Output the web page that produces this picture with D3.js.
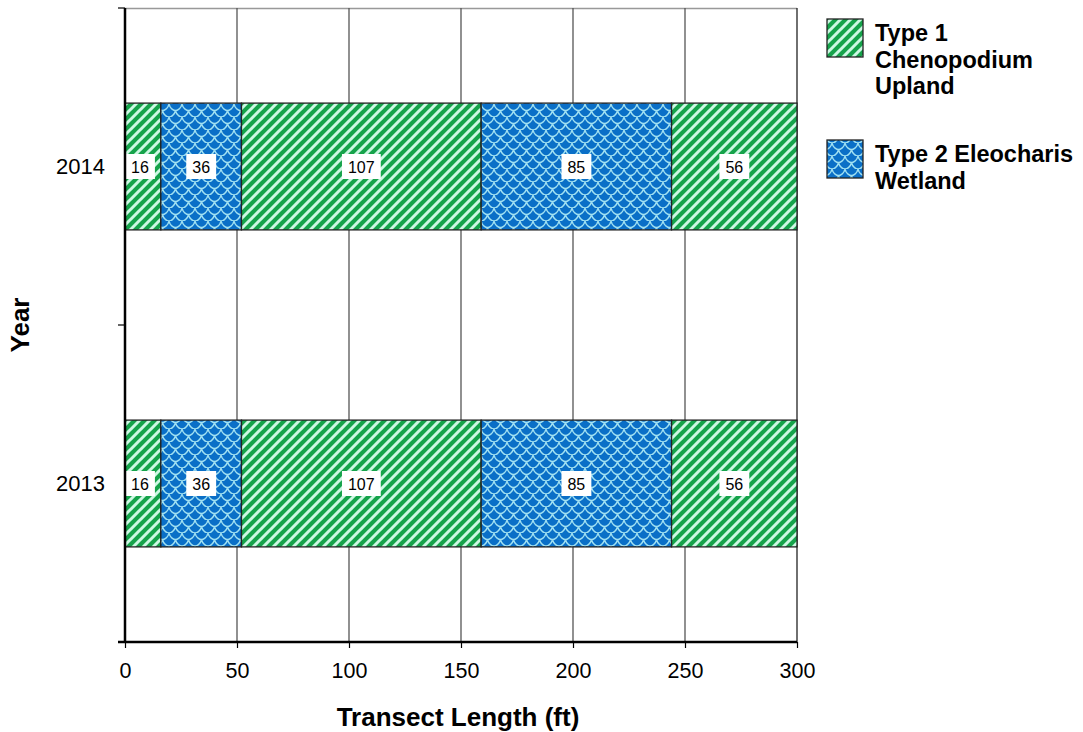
<!DOCTYPE html>
<html>
<head>
<meta charset="utf-8">
<script src="https://cdn.jsdelivr.net/npm/d3@7"></script>
<style>
body{margin:0;background:#fff;}
svg{display:block;font-family:Arial,"Liberation Sans",sans-serif;}
</style>
</head>
<body>
<svg id="chart" width="1083" height="732"></svg>
<script>
const years = ["2014", "2013"];
const segments2014 = [16, 36, 107, 85, 56];
const segments2013 = [16, 36, 107, 85, 56];
const segmentTypes = [1, 2, 1, 2, 1];
const xTicks = [0, 50, 100, 150, 200, 250, 300];
const legendLabels = [["Type 1", "Chenopodium", "Upland"], ["Type 2 Eleocharis", "Wetland"]];

const svg = d3.select("#chart");
const defs = svg.append("defs");

// green diagonal stripes
const pg = defs.append("pattern").attr("id","pGreen").attr("patternUnits","userSpaceOnUse")
  .attr("width",10).attr("height",10);
pg.append("rect").attr("width",10).attr("height",10).attr("fill","#15a34a");
pg.append("path").attr("d","M-2,2 L2,-2 M0,10 L10,0 M8,12 L12,8")
  .attr("stroke","#cdf8e4").attr("stroke-width",3);

// blue scale pattern
const pb = defs.append("pattern").attr("id","pBlue").attr("patternUnits","userSpaceOnUse")
  .attr("width",13).attr("height",13);
pb.append("rect").attr("width",13).attr("height",13).attr("fill","#0a6fc7");
pb.append("path").attr("d","M0,0 C1,5 5,6.5 6.5,6.5 C8,6.5 12,5 13,0 M-6.5,6.5 C-5.5,11.5 -1.5,13 0,13 C1.5,13 5.5,11.5 6.5,6.5 M6.5,6.5 C7.5,11.5 11.5,13 13,13 C14.5,13 18.5,11.5 19.5,6.5")
  .attr("fill","none").attr("stroke","#9fe0f2").attr("stroke-width",1.4);

const pLeft = 125, pRight = 797, pTop = 8, pBottom = 642;
const x = d3.scaleLinear().domain([0,300]).range([pLeft,pRight]);
const y = d3.scaleBand().domain(years).range([pTop,pBottom]).paddingInner(0.6).paddingOuter(0.3);
const yOuter = d3.scaleBand().domain(years).range([pTop,pBottom]);

// plot border (top)
svg.append("line").attr("x1",pLeft).attr("x2",pRight).attr("y1",pTop+0.5).attr("y2",pTop+0.5).attr("stroke","#999").attr("stroke-width",1.5);
// gridlines
svg.append("g").selectAll("line").data(xTicks.slice(1)).join("line")
  .attr("x1",d=>x(d)).attr("x2",d=>x(d)).attr("y1",pTop).attr("y2",pBottom)
  .attr("stroke",d=>d===300?"#222":"#555").attr("stroke-width",1.3);

// bars
const data = [{year:"2014", segs:segments2014},{year:"2013", segs:segments2013}];
data.forEach(row=>{
  let cum = 0;
  const g = svg.append("g");
  row.segs.forEach((v,i)=>{
    const x0 = cum, x1 = cum+v; cum = x1;
    g.append("rect").attr("x",x(x0)).attr("y",y(row.year)).attr("width",x(x1)-x(x0)).attr("height",y.bandwidth())
      .attr("fill", segmentTypes[i]===1 ? "url(#pGreen)" : "url(#pBlue)")
      .attr("stroke","#222").attr("stroke-width",1.3);
    const cx = (x(x0)+x(x1))/2 - (i===0?3:0), cy = y(row.year)+y.bandwidth()/2;
    const t = g.append("text").attr("x",cx).attr("y",cy+6).attr("text-anchor","middle")
      .attr("font-size",16).attr("fill","#000").text(v);
    const bb = t.node().getBBox();
    g.insert("rect", function(){return t.node();}).attr("x",bb.x-6).attr("y",cy-12.5).attr("width",bb.width+12).attr("height",25).attr("fill","#fff");
  });
});

// x axis
const xAxis = svg.append("g").attr("transform",`translate(0,${pBottom})`)
  .call(d3.axisBottom(x).tickValues(xTicks).tickSize(6).tickPadding(15));
xAxis.select(".domain").attr("stroke","#000").attr("stroke-width",2.5).attr("d",`M${pLeft-7},0H${pRight}`);
xAxis.selectAll(".tick line").attr("stroke","#000").attr("stroke-width",1.2);
xAxis.selectAll("text").attr("font-size",21.5).attr("font-family","Arial,'Liberation Sans',sans-serif").attr("fill","#000");

// y axis
const yAxis = svg.append("g").attr("transform",`translate(${pLeft},0)`)
  .call(d3.axisLeft(y).tickSize(0).tickPadding(20));
yAxis.select(".domain").attr("stroke","#000").attr("stroke-width",2.5).attr("d",`M0,${pTop}V${pBottom}`);
yAxis.selectAll("text").attr("font-size",22).attr("font-family","Arial,'Liberation Sans',sans-serif").attr("fill","#000");
const yTickPos = [pTop, yOuter("2013"), pBottom];
svg.append("g").selectAll("line").data(yTickPos).join("line")
  .attr("x1",pLeft-7).attr("x2",pLeft).attr("y1",d=>d).attr("y2",d=>d).attr("stroke","#000").attr("stroke-width",1.2);

// axis titles
svg.append("text").attr("x",(pLeft+pRight)/2 - 3).attr("y",726).attr("text-anchor","middle")
  .attr("font-size",26).attr("font-weight","bold").text("Transect Length (ft)");
svg.append("text").attr("transform","translate(29,325) rotate(-90)").attr("text-anchor","middle")
  .attr("font-size",26).attr("font-weight","bold").text("Year");

// legend
const legendY = [19, 140];
legendLabels.forEach((lines,i)=>{
  svg.append("rect").attr("x",827).attr("y",legendY[i]).attr("width",36).attr("height",38)
    .attr("fill", i===0 ? "url(#pGreen)" : "url(#pBlue)").attr("stroke","#222").attr("stroke-width",1.3);
  const t = svg.append("text").attr("x",875).attr("y",legendY[i]+22).attr("font-size",23.5).attr("font-weight","bold");
  lines.forEach((l,j)=>t.append("tspan").attr("x",875).attr("dy",j===0?0:26.5).text(l));
});
</script>
</body>
</html>
